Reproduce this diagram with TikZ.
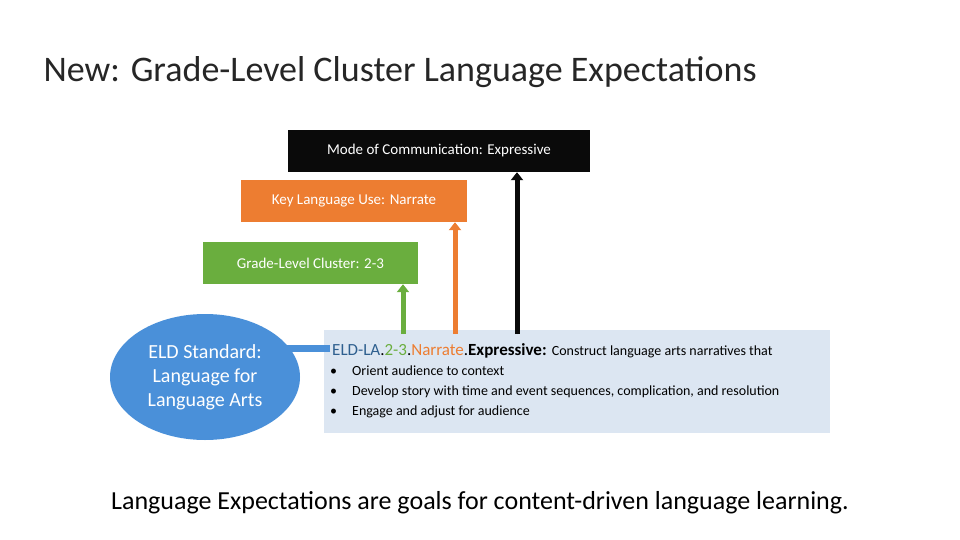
\documentclass[tikz,border=0pt]{standalone}
\usepackage{fontspec}
\setmainfont{Carlito}
\usetikzlibrary{arrows.meta,shapes.geometric}
\definecolor{blk}{HTML}{0A0A0A}
\definecolor{org}{HTML}{ED7D31}
\definecolor{grn}{HTML}{6AAE3E}
\definecolor{lblue}{HTML}{DCE6F2}
\definecolor{eblue}{HTML}{4A90D9}
\definecolor{hblue}{HTML}{2E5F8F}
\begin{document}
\begin{tikzpicture}[x=1pt,y=-1pt,
  lab/.style={draw=none,minimum height=42pt,text=white,font=\fontsize{15}{18}\selectfont,inner sep=0pt},
  up/.style={line width=5pt,-{Triangle[length=8pt,width=12pt]}}]
\useasboundingbox (0,0) rectangle (960,540);
\node[anchor=base west,font=\fontsize{36}{40}\selectfont,text=black!85] (title) at (40,82) {New: Grade-Level Cluster Language Expectations};
\node[anchor=base,font=\fontsize{26}{30}\selectfont] (foot) at (480,509) {Language Expectations are goals for content-driven language learning.};
\node[lab,fill=blk,minimum width=302pt] (mode) at (439,151) {Mode of Communication: Expressive};
\node[lab,fill=org,minimum width=226pt] (klu) at (354,201) {Key Language Use: Narrate};
\node[lab,fill=grn,minimum width=215pt] (glc) at (310.5,263) {Grade-Level Cluster: 2-3};
\node[fill=lblue,minimum width=506pt,minimum height=103pt,inner sep=0pt] (std) at (577,381.5) {};
\node[ellipse,fill=eblue,minimum width=190pt,minimum height=126pt,text=white,align=center,font=\fontsize{20}{24}\selectfont,inner sep=0pt] (eld) at (205,377) {ELD Standard:\\Language for\\Language Arts};
\coordinate (gs) at (403,334);
\coordinate (os) at (455,334);
\coordinate (bs) at (517,334);
\draw[up,draw=grn,fill=grn] (gs) -- (gs |- glc.south);
\draw[up,draw=org,fill=org] (os) -- (os |- klu.south);
\draw[up,draw=blk,fill=blk] (bs) -- (bs |- mode.south);
\coordinate (as) at (330,348);
\draw[line width=7pt,draw=eblue,-{Triangle[length=10pt,width=16pt]}] (as) -- (272,348);
\node[anchor=base west,font=\fontsize{17}{20}\selectfont,inner sep=0pt] (h) at (332,355) {\textcolor{hblue}{ELD-LA}.\textcolor{grn}{2-3}.\textcolor{org}{Narrate}.\textbf{Expressive:} {\fontsize{14}{16}\selectfont Construct language arts narratives that}};
\begin{scope}[every node/.style={anchor=base west,font=\fontsize{14}{16}\selectfont,inner sep=0pt}]
\node (b1) at (352,375) {Orient audience to context};
\node (b2) at (352,395) {Develop story with time and event sequences, complication, and resolution};
\node (b3) at (352,415) {Engage and adjust for audience};
\node (d1) at (330,375) {•};
\node (d2) at (330,395) {•};
\node (d3) at (330,415) {•};
\end{scope}
\end{tikzpicture}
\end{document}
